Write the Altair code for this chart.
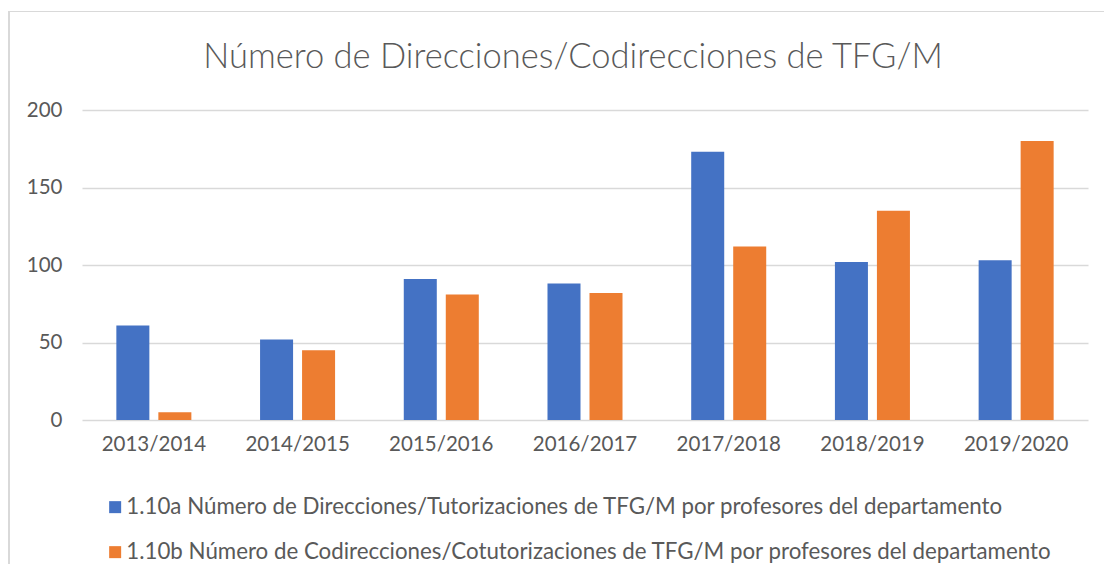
import altair as alt
import pandas as pd

years = ["2013/2014", "2014/2015", "2015/2016", "2016/2017", "2017/2018", "2018/2019", "2019/2020"]
series_a = "1.10a Número de Direcciones/Tutorizaciones de TFG/M por profesores del departamento"
series_b = "1.10b Número de Codirecciones/Cotutorizaciones de TFG/M por profesores del departamento"
values_a = [61, 52, 91, 88, 173, 102, 103]
values_b = [5, 45, 81, 82, 112, 135, 180]
colors = ["#4472C4", "#ED7D31"]
y_ticks = [0, 50, 100, 150, 200]
title_text = "Número de Direcciones/Codirecciones de TFG/M"

rows = []
for i, yr in enumerate(years):
    rows.append({"year": yr, "series": series_a, "value": values_a[i]})
    rows.append({"year": yr, "series": series_b, "value": values_b[i]})
df = pd.DataFrame(rows)

FONT = "Lato"
TXT = "#595959"

bars = alt.Chart(df).mark_bar().encode(
    x=alt.X("year:N", sort=years, title=None,
            scale=alt.Scale(paddingInner=0.478, paddingOuter=0.239),
            axis=alt.Axis(labelAngle=0, domain=False, ticks=False, grid=False,
                          labelFont=FONT, labelFontSize=20.5, labelColor=TXT, labelPadding=14)),
    xOffset=alt.XOffset("series:N", sort=[series_a, series_b],
                        scale=alt.Scale(paddingInner=0.214, paddingOuter=0)),
    y=alt.Y("value:Q", title=None,
            scale=alt.Scale(domain=[0, 200], nice=False),
            axis=alt.Axis(values=y_ticks, domain=False, ticks=False, grid=True,
                          gridColor="#D9D9D9", gridWidth=1.3,
                          labelFont=FONT, labelFontSize=20.5, labelColor=TXT, labelPadding=20)),
    color=alt.Color("series:N", sort=[series_a, series_b],
                    scale=alt.Scale(domain=[series_a, series_b], range=colors),
                    legend=alt.Legend(title=None, orient="none", legendX=22, legendY=386,
                                      direction="vertical", symbolType="square", symbolSize=144,
                                      symbolStrokeWidth=0, labelFont=FONT, labelFontSize=22.3,
                                      labelColor=TXT, labelOffset=0, rowPadding=22,
                                      labelLimit=1100)),
)

title_df = pd.DataFrame({"t": [title_text]})
title_mark = alt.Chart(title_df).mark_text(
    font=FONT, fontSize=34.5, fontWeight=300, color=TXT, align="center", baseline="alphabetic"
).encode(text="t:N", x=alt.value(491), y=alt.value(-42))

border_top = alt.Chart(title_df).mark_rule(color="#D9D9D9", strokeWidth=1.2).encode(
    x=alt.value(-74), x2=alt.value(1040), y=alt.value(-98.5))
border_left = alt.Chart(title_df).mark_rule(color="#D9D9D9", strokeWidth=2).encode(
    x=alt.value(-73), y=alt.value(-98.5), y2=alt.value(470))

chart = alt.layer(bars, title_mark, border_top, border_left).properties(
    width=1006,
    height=310,
    autosize=alt.AutoSizeParams(type="none"),
    padding={"left": 74, "top": 102, "right": 16, "bottom": 144},
).configure_view(stroke=None)

chart.save("out.html", embed_options={"renderer": "svg", "actions": False})
